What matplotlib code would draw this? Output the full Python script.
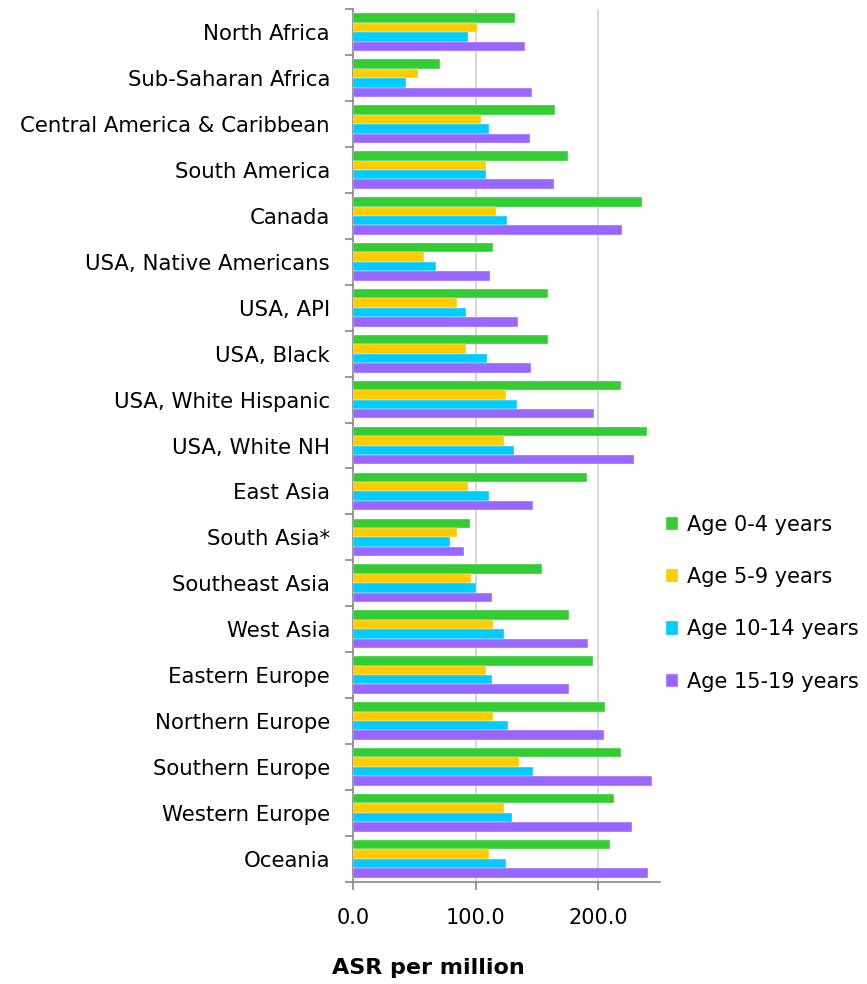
import numpy as np
import matplotlib.pyplot as plt
from matplotlib.ticker import FixedLocator, FormatStrFormatter

regions = ['North Africa', 'Sub-Saharan Africa', 'Central America & Caribbean',
           'South America', 'Canada', 'USA, Native Americans', 'USA, API',
           'USA, Black', 'USA, White Hispanic', 'USA, White NH', 'East Asia',
           'South Asia*', 'Southeast Asia', 'West Asia', 'Eastern Europe',
           'Northern Europe', 'Southern Europe', 'Western Europe', 'Oceania']

age_0_4 = [132.2, 70.7, 164.9, 175.0, 235.4, 114.3, 159.2, 159.2, 218.5, 239.2,
           190.7, 95.5, 154.0, 175.8, 195.6, 205.4, 218.5, 212.5, 209.5]
age_5_9 = [101.5, 52.8, 104.5, 108.3, 116.5, 57.7, 84.6, 92.5, 124.4, 123.3,
           93.6, 84.6, 96.6, 114.3, 108.3, 114.3, 135.2, 123.3, 110.5]
age_10_14 = [93.6, 43.0, 110.5, 108.3, 125.2, 67.8, 92.5, 109.4, 134.1, 131.2,
             110.5, 79.5, 100.1, 123.3, 113.5, 126.3, 146.9, 129.3, 124.4]
age_15_19 = [140.1, 146.1, 144.2, 164.1, 219.6, 111.6, 134.4, 145.3, 196.7, 229.4,
             146.9, 90.6, 113.5, 191.8, 175.8, 204.6, 243.3, 227.5, 240.3]

series = [
    ('Age 0-4 years', age_0_4, '#33CC33'),
    ('Age 5-9 years', age_5_9, '#FFCC00'),
    ('Age 10-14 years', age_10_14, '#00CCFF'),
    ('Age 15-19 years', age_15_19, '#9966FF'),
]

plt.rcParams['font.family'] = ['DejaVu Sans']

fig = plt.figure(figsize=(8.67, 9.84), dpi=100)
ax = fig.add_axes([0.407, 0.104, 0.354, 0.8865])

y = np.arange(len(regions))
h = 0.205
for i, (label, vals, color) in enumerate(series):
    ax.barh(y + (i - 1.5) * h, vals, height=h, color=color, label=label,
            edgecolor='#f2f2f2', linewidth=0.3, zorder=3)

ax.set_xlim(0, 250)
ax.set_ylim(len(regions) - 0.5, -0.5)
ax.set_xticks([0, 100, 200])
ax.xaxis.set_major_formatter(FormatStrFormatter('%.1f'))
ax.set_yticks(y)
ax.set_yticklabels(regions)
ax.yaxis.set_minor_locator(FixedLocator(np.arange(-0.5, len(regions), 1)))
ax.tick_params(axis='y', which='major', length=0, pad=16.5, labelsize=15.3)
ax.tick_params(axis='y', which='minor', length=6, color='#888888', width=1.2)
ax.tick_params(axis='x', length=6, color='#888888', width=1.2, labelsize=15, pad=13)

ax.grid(axis='x', color='#d0d0d0', linewidth=1.2, zorder=0)
for s in ['top', 'right']:
    ax.spines[s].set_visible(False)
for s in ['left', 'bottom']:
    ax.spines[s].set_color('#888888')
    ax.spines[s].set_linewidth(1.2)

fig.text(428 / 867, 1 - 968 / 984, 'ASR per million', fontsize=16,
         fontweight='bold', ha='center', va='center')

fig.legend(loc='center left', bbox_to_anchor=(0.746, 0.387), frameon=False,
           fontsize=15, labelspacing=1.55, handlelength=0.6, handleheight=0.6,
           handletextpad=0.45)

fig.savefig('out.png', dpi=100)
